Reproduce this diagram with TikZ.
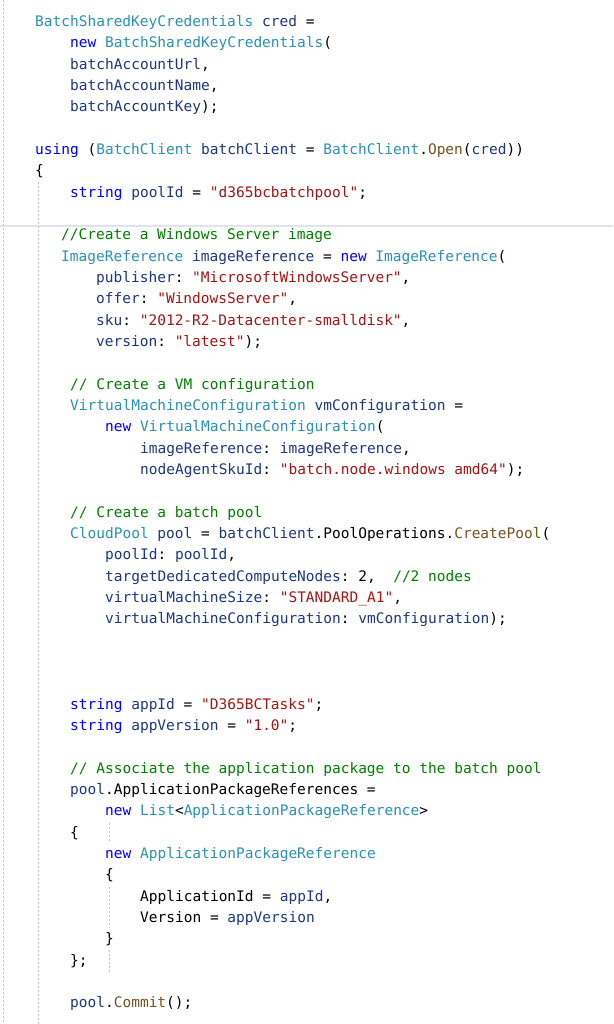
\documentclass[tikz,border=0pt]{standalone}
\usepackage{fontspec}
\usepackage{xcolor}
\newfontfamily\codefont{DejaVu Sans Mono}
\definecolor{vsType}{HTML}{2B91AF}
\definecolor{vsKey}{HTML}{0000FF}
\definecolor{vsStr}{HTML}{A31515}
\definecolor{vsCom}{HTML}{008000}
\definecolor{vsVar}{HTML}{1F377F}
\definecolor{vsMeth}{HTML}{74531F}
\definecolor{vsGuide}{HTML}{C4C4C4}
\definecolor{vsSep}{HTML}{E2E2EA}
\newcommand\vsTy[1]{\textcolor{vsType}{#1}}
\newcommand\vsKw[1]{\textcolor{vsKey}{#1}}
\newcommand\vsSt[1]{\textcolor{vsStr}{#1}}
\newcommand\vsCm[1]{\textcolor{vsCom}{#1}}
\newcommand\vsVr[1]{\textcolor{vsVar}{#1}}
\newcommand\vsMt[1]{\textcolor{vsMeth}{#1}}
\begin{document}
\begin{tikzpicture}[x=1pt,y=-1pt,
  code/.style={anchor=base west, inner sep=0pt, text=black,
    font=\codefont\fontsize{14.5}{17}\selectfont\frenchspacing},
  guide/.style={draw=vsGuide, line width=0.8pt, dash pattern=on 2pt off 2pt}]
\useasboundingbox[fill=white] (0,0) rectangle (613,1024);
% separator and indentation guides
\draw[vsSep, line width=1.4pt] (0,226) -- (613,226);
\draw[guide] (3.5,0) -- (3.5,1024);
\draw[guide] (38.5,182) -- (38.5,1024);
\draw[guide] (109,823) -- (109,843);
\draw[guide] (109,887) -- (109,928);
\draw[guide] (109,950) -- (109,972);
% code lines
\node[code] (l1)  at (35,26.5)  {\vsTy{BatchSharedKeyCredentials} \vsVr{cred} =};
\node[code] (l2)  at (70,47.8)  {\vsKw{new} \vsTy{BatchSharedKeyCredentials}(};
\node[code] (l3)  at (70,69.2)  {\vsVr{batchAccountUrl},};
\node[code] (l4)  at (70,90.5)  {\vsVr{batchAccountName},};
\node[code] (l5)  at (70,111.8) {\vsVr{batchAccountKey});};
\node[code] (l7)  at (35,154.5) {\vsKw{using} (\vsTy{BatchClient} \vsVr{batchClient} = \vsTy{BatchClient}.\vsMt{Open}(\vsVr{cred}))};
\node[code] (l8)  at (35,175.8) {\{};
\node[code] (l9)  at (70,197.1) {\vsKw{string} \vsVr{poolId} = \vsSt{"d365bcbatchpool"};};
\node[code] (l11) at (61,239.8) {\vsCm{//Create a Windows Server image}};
\node[code] (l12) at (61,261.1) {\vsTy{ImageReference} \vsVr{imageReference} = \vsKw{new} \vsTy{ImageReference}(};
\node[code] (l13) at (96,282.5) {\vsVr{publisher}: \vsSt{"MicrosoftWindowsServer"},};
\node[code] (l14) at (96,303.8) {\vsVr{offer}: \vsSt{"WindowsServer"},};
\node[code] (l15) at (96,325.1) {\vsVr{sku}: \vsSt{"2012-R2-Datacenter-smalldisk"},};
\node[code] (l16) at (96,346.5) {\vsVr{version}: \vsSt{"latest"});};
\node[code] (l18) at (70,389.1) {\vsCm{// Create a VM configuration}};
\node[code] (l19) at (70,410.5) {\vsTy{VirtualMachineConfiguration} \vsVr{vmConfiguration} =};
\node[code] (l20) at (105,431.8) {\vsKw{new} \vsTy{VirtualMachineConfiguration}(};
\node[code] (l21) at (140,453.1) {\vsVr{imageReference}: \vsVr{imageReference},};
\node[code] (l22) at (140,474.4) {\vsVr{nodeAgentSkuId}: \vsSt{"batch.node.windows amd64"});};
\node[code] (l24) at (70,517.1) {\vsCm{// Create a batch pool}};
\node[code] (l25) at (70,538.4) {\vsTy{CloudPool} \vsVr{pool} = \vsVr{batchClient}.PoolOperations.\vsMt{CreatePool}(};
\node[code] (l26) at (105,559.8) {\vsVr{poolId}: \vsVr{poolId},};
\node[code] (l27) at (105,581.1) {\vsVr{targetDedicatedComputeNodes}: 2,\ \ \vsCm{//2 nodes}};
\node[code] (l28) at (105,602.4) {\vsVr{virtualMachineSize}: \vsSt{"STANDARD\_A1"},};
\node[code] (l29) at (105,623.8) {\vsVr{virtualMachineConfiguration}: \vsVr{vmConfiguration});};
\node[code] (l33) at (70,709.1) {\vsKw{string} \vsVr{appId} = \vsSt{"D365BCTasks"};};
\node[code] (l34) at (70,730.4) {\vsKw{string} \vsVr{appVersion} = \vsSt{"1.0"};};
\node[code] (l36) at (70,773.1) {\vsCm{// Associate the application package to the batch pool}};
\node[code] (l37) at (70,794.4) {\vsVr{pool}.ApplicationPackageReferences =};
\node[code] (l38) at (105,815.7) {\vsKw{new} \vsTy{List}<\vsTy{ApplicationPackageReference}>};
\node[code] (l39) at (70,837.0) {\{};
\node[code] (l40) at (105,858.4) {\vsKw{new} \vsTy{ApplicationPackageReference}};
\node[code] (l41) at (105,879.7) {\{};
\node[code] (l42) at (140,901.0) {ApplicationId = \vsVr{appId},};
\node[code] (l43) at (140,922.4) {Version = \vsVr{appVersion}};
\node[code] (l44) at (105,943.7) {\}};
\node[code] (l45) at (70,965.0) {\};};
\node[code] (l47) at (70,1007.7) {\vsVr{pool}.\vsMt{Commit}();};
\end{tikzpicture}
\end{document}
